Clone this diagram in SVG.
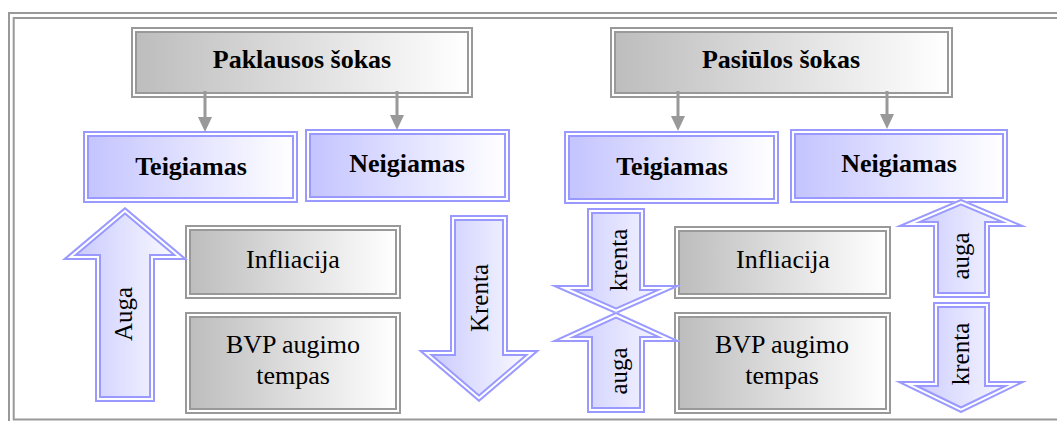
<svg xmlns="http://www.w3.org/2000/svg" xmlns:xlink="http://www.w3.org/1999/xlink" width="1057" height="421" viewBox="0 0 1057 421" font-family="'Liberation Serif', 'Times New Roman', serif">
  <style>
    .frame { fill: none; stroke: #999999; stroke-width: 2; }
    .g-out { fill: #ffffff; stroke: #999999; stroke-width: 2; }
    .g-in { fill: url(#gGray); stroke: #999999; stroke-width: 2; }
    .b-out { fill: #ffffff; stroke: #9999ff; stroke-width: 2; }
    .b-in { fill: url(#gBlue); stroke: #9999ff; stroke-width: 2; }
    .a-fill { fill: url(#gArrow); stroke: #9999ff; stroke-width: 12; stroke-linejoin: miter; stroke-miterlimit: 12; }
    .a-gap { fill: none; stroke: #ffffff; stroke-width: 8; stroke-linejoin: miter; stroke-miterlimit: 12; }
    .a-line { fill: none; stroke: #9999ff; stroke-width: 4; stroke-linejoin: miter; stroke-miterlimit: 12; }
    .conn { fill: none; stroke: #999999; stroke-width: 3; }
    .txt { font-family: 'Liberation Serif', 'Times New Roman', serif; fill: #000000; }
    .bold { font-size: 26px; font-weight: bold; text-anchor: middle; }
    .reg { font-size: 26px; text-anchor: middle; }
    .rot { font-size: 25px; text-anchor: middle; }
  </style>
  <defs>
    <linearGradient id="gGray" x1="0" y1="0" x2="1" y2="0">
      <stop offset="0" stop-color="#bdbdbd"/>
      <stop offset="1" stop-color="#ffffff"/>
    </linearGradient>
    <linearGradient id="gBlue" x1="0" y1="0" x2="1" y2="0">
      <stop offset="0" stop-color="#c4c4ff"/>
      <stop offset="1" stop-color="#ffffff"/>
    </linearGradient>
    <linearGradient id="gArrow" x1="0" y1="0" x2="1" y2="0">
      <stop offset="0" stop-color="#c4c4ff"/>
      <stop offset="1" stop-color="#ffffff"/>
    </linearGradient>
    <marker id="head" markerUnits="userSpaceOnUse" markerWidth="16" markerHeight="16" refX="0" refY="7" orient="auto">
      <path d="M0,0 L15,7 L0,14 Z" fill="#999999"/>
    </marker>
    <!-- block arrow outlines -->
    <path id="pAugaL" d="M125,207 L188,260 L155,260 L155,402 L95,402 L95,260 L62,260 Z"/>
    <path id="pKrentaL" d="M450,215 L508,215 L508,350 L540,350 L479,402 L418,350 L450,350 Z"/>
    <path id="pKrentaM" d="M587,208 L645,208 L645,285 L682,285 L616,314 L550,285 L587,285 Z"/>
    <path id="pAugaM" d="M616,312 L682,342 L645,342 L645,413 L587,413 L587,342 L550,342 Z"/>
    <path id="pAugaR" d="M961,199 L1027,227 L990,227 L990,298 L933,298 L933,227 L895,227 Z"/>
    <path id="pKrentaR" d="M933,302 L990,302 L990,381 L1027,381 L961,413 L895,381 L933,381 Z"/>
    <clipPath id="cAugaL"><use xlink:href="#pAugaL"/></clipPath>
    <clipPath id="cKrentaL"><use xlink:href="#pKrentaL"/></clipPath>
    <clipPath id="cKrentaM"><use xlink:href="#pKrentaM"/></clipPath>
    <clipPath id="cAugaM"><use xlink:href="#pAugaM"/></clipPath>
    <clipPath id="cAugaR"><use xlink:href="#pAugaR"/></clipPath>
    <clipPath id="cKrentaR"><use xlink:href="#pKrentaR"/></clipPath>
  </defs>

  <rect width="1057" height="421" fill="#ffffff"/>

  <!-- double frame -->
  <g id="frame">
    <rect class="frame" x="9" y="13" width="1100" height="440"/>
    <rect class="frame" x="13.7" y="18" width="1100" height="401.5"/>
  </g>

  <!-- shock headers -->
  <g id="paklausos-sokas">
    <rect class="g-out" x="132" y="28" width="340" height="69"/>
    <rect class="g-in" x="136" y="32" width="332" height="61"/>
    <text class="txt bold" x="302" y="68" font-family="'Liberation Serif', serif">Paklausos šokas</text>
  </g>
  <g id="pasiulos-sokas">
    <rect class="g-out" x="611" y="28" width="341" height="69"/>
    <rect class="g-in" x="615" y="32" width="333" height="61"/>
    <text class="txt bold" x="781" y="68" font-family="'Liberation Serif', serif">Pasiūlos šokas</text>
  </g>

  <!-- positive / negative boxes -->
  <g id="teigiamas-1">
    <rect class="b-out" x="84" y="132" width="213" height="70"/>
    <rect class="b-in" x="88" y="136" width="205" height="62"/>
    <text class="txt bold" x="191" y="175" font-family="'Liberation Serif', serif">Teigiamas</text>
  </g>
  <g id="neigiamas-1">
    <rect class="b-out" x="306" y="130" width="203" height="71"/>
    <rect class="b-in" x="310" y="134" width="195" height="63"/>
    <text class="txt bold" x="407" y="172" font-family="'Liberation Serif', serif">Neigiamas</text>
  </g>
  <g id="teigiamas-2">
    <rect class="b-out" x="565" y="132" width="213" height="71"/>
    <rect class="b-in" x="569" y="136" width="205" height="63"/>
    <text class="txt bold" x="672" y="175" font-family="'Liberation Serif', serif">Teigiamas</text>
  </g>
  <g id="neigiamas-2">
    <rect class="b-out" x="791" y="130" width="216" height="72"/>
    <rect class="b-in" x="795" y="134" width="208" height="64"/>
    <text class="txt bold" x="899" y="172" font-family="'Liberation Serif', serif">Neigiamas</text>
  </g>

  <!-- indicator boxes -->
  <g id="infliacija-1">
    <rect class="g-out" x="186" y="226" width="214" height="72"/>
    <rect class="g-in" x="190" y="230" width="206" height="64"/>
    <text class="txt reg" x="293" y="268" font-family="'Liberation Serif', serif">Infliacija</text>
  </g>
  <g id="bvp-1">
    <rect class="g-out" x="186" y="313" width="214" height="100"/>
    <rect class="g-in" x="190" y="317" width="206" height="92"/>
    <text class="txt reg" x="293" y="353" font-family="'Liberation Serif', serif">BVP augimo</text>
    <text class="txt reg" x="293" y="384" font-family="'Liberation Serif', serif">tempas</text>
  </g>
  <g id="infliacija-2">
    <rect class="g-out" x="675" y="227" width="215" height="71"/>
    <rect class="g-in" x="679" y="231" width="207" height="63"/>
    <text class="txt reg" x="783" y="268" font-family="'Liberation Serif', serif">Infliacija</text>
  </g>
  <g id="bvp-2">
    <rect class="g-out" x="675" y="313" width="215" height="100"/>
    <rect class="g-in" x="679" y="317" width="207" height="92"/>
    <text class="txt reg" x="782" y="353" font-family="'Liberation Serif', serif">BVP augimo</text>
    <text class="txt reg" x="782" y="384" font-family="'Liberation Serif', serif">tempas</text>
  </g>

  <!-- block arrows -->
  <g id="arrow-auga-1">
    <g clip-path="url(#cAugaL)">
      <use xlink:href="#pAugaL" class="a-fill"/>
      <use xlink:href="#pAugaL" class="a-gap"/>
      <use xlink:href="#pAugaL" class="a-line"/>
    </g>
    <text class="txt rot" transform="translate(132,314) rotate(-90)" font-family="'Liberation Serif', serif">Auga</text>
  </g>
  <g id="arrow-krenta-1">
    <g clip-path="url(#cKrentaL)">
      <use xlink:href="#pKrentaL" class="a-fill"/>
      <use xlink:href="#pKrentaL" class="a-gap"/>
      <use xlink:href="#pKrentaL" class="a-line"/>
    </g>
    <text class="txt rot" transform="translate(488,298) rotate(-90)" font-family="'Liberation Serif', serif">Krenta</text>
  </g>
  <g id="arrow-krenta-2">
    <g clip-path="url(#cKrentaM)">
      <use xlink:href="#pKrentaM" class="a-fill"/>
      <use xlink:href="#pKrentaM" class="a-gap"/>
      <use xlink:href="#pKrentaM" class="a-line"/>
    </g>
    <text class="txt rot" transform="translate(627,260) rotate(-90)" font-family="'Liberation Serif', serif">krenta</text>
  </g>
  <g id="arrow-auga-2">
    <g clip-path="url(#cAugaM)">
      <use xlink:href="#pAugaM" class="a-fill"/>
      <use xlink:href="#pAugaM" class="a-gap"/>
      <use xlink:href="#pAugaM" class="a-line"/>
    </g>
    <text class="txt rot" transform="translate(627,371) rotate(-90)" font-family="'Liberation Serif', serif">auga</text>
  </g>
  <g id="arrow-auga-3">
    <g clip-path="url(#cAugaR)">
      <use xlink:href="#pAugaR" class="a-fill"/>
      <use xlink:href="#pAugaR" class="a-gap"/>
      <use xlink:href="#pAugaR" class="a-line"/>
    </g>
    <text class="txt rot" transform="translate(969,256) rotate(-90)" font-family="'Liberation Serif', serif">auga</text>
  </g>
  <g id="arrow-krenta-3">
    <g clip-path="url(#cKrentaR)">
      <use xlink:href="#pKrentaR" class="a-fill"/>
      <use xlink:href="#pKrentaR" class="a-gap"/>
      <use xlink:href="#pKrentaR" class="a-line"/>
    </g>
    <text class="txt rot" transform="translate(969,354) rotate(-90)" font-family="'Liberation Serif', serif">krenta</text>
  </g>

  <!-- connectors from headers to outcome boxes -->
  <g id="connectors">
    <line class="conn" x1="205" y1="91" x2="205" y2="117" marker-end="url(#head)"/>
    <line class="conn" x1="397" y1="91" x2="397" y2="115" marker-end="url(#head)"/>
    <line class="conn" x1="678" y1="91" x2="678" y2="116" marker-end="url(#head)"/>
    <line class="conn" x1="887" y1="91" x2="887" y2="114" marker-end="url(#head)"/>
  </g>
</svg>
